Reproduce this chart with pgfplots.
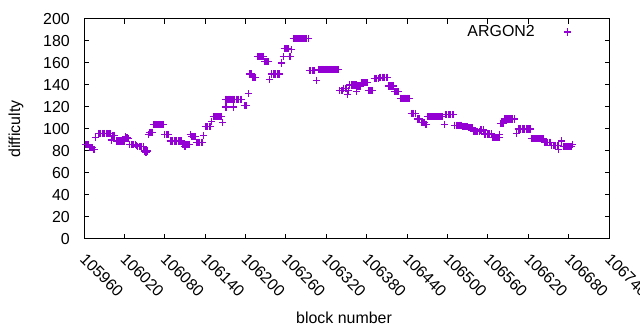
\documentclass[border=0pt]{standalone}
\usepackage{pgfplots}
\pgfplotsset{compat=1.18}
\usepackage{fontspec}
\setmainfont{Liberation Sans}
\definecolor{gpviolet}{HTML}{9400D3}
\newcommand{\gpfont}{\fontsize{16}{17}\selectfont}
\begin{document}
\begin{tikzpicture}
\useasboundingbox (0bp,0bp) rectangle (640bp,330bp);
\begin{axis}[
  at={(84bp,91bp)}, anchor=south west,
  scale only axis, width=525bp, height=220bp,
  xmin=105960, xmax=106740, ymin=0, ymax=200,
  scaled x ticks=false,
  xtick={105960,106020,106080,106140,106200,106260,106320,106380,106440,106500,106560,106620,106680,106740},
  xticklabels={105960,106020,106080,106140,106200,106260,106320,106380,106440,106500,106560,106620,106680,106740},
  ytick={0,20,40,60,80,100,120,140,160,180,200},
  /pgf/number format/assume math mode=true,
  tick align=inside, major tick length=4.5bp,
  axis line style={line width=1bp}, every tick/.style={black, line width=1bp},
  xticklabel style={font=\gpfont, inner sep=0pt, xshift=3bp, yshift=-13bp, rotate=-45, anchor=north west},
  yticklabel style={font=\gpfont, inner sep=0pt, xshift=-14bp},
  legend style={draw=none, fill=none, at={(0.928,0.941)}, anchor=east, font=\gpfont, inner sep=0pt, column sep=29bp, nodes={inner sep=0pt}},
  legend plot pos=right, legend cell align=right,
]
\addplot[only marks, mark=+, mark size=3.6bp, color=gpviolet, mark options={line width=1.2bp}] coordinates {
(105963,86) (105965,86) (105967,86)
(105969,83) (105971,83) (105973,83)
(105975,81) (105977,92)
(105981,96) (105983,96) (105985,96) (105987,96) (105989,96) (105991,96) (105993,96) (105995,96) (105997,96) (105999,96)
(106001,90) (106003,94) (106005,94)
(106008,89) (106010,89) (106012,89) (106014,89) (106016,89) (106018,89) (106020,89)
(106022,93) (106024,92) (106026,91)
(106028,86) (106030,86) (106032,86) (106034,86) (106036,86)
(106038,85)
(106040,84) (106042,84) (106044,84) (106046,84) (106048,84)
(106050,80) (106052,80) (106054,80) (106052,79)
(106056,95) (106058,97) (106060,97) (106062,97)
(106064,104) (106066,104) (106068,104) (106070,104) (106072,104) (106074,104) (106076,104) (106078,104)
(106080,95) (106082,95) (106084,95) (106086,95)
(106088,89) (106090,89) (106092,89) (106094,89) (106096,89) (106098,89) (106100,89) (106102,89) (106104,89)
(106106,86) (106108,86) (106110,86) (106112,86) (106114,86) (106116,86) (106110,84)
(106118,95) (106120,93) (106122,93) (106124,93) (106126,93)
(106128,88) (106130,88) (106132,88) (106134,88) (106136,88)
(106138,94)
(106140,102) (106142,102) (106144,102) (106146,102) (106148,102)
(106150,107) (106152,111) (106154,111) (106156,111) (106158,111) (106160,111) (106162,111) (106164,111)
(106166,106)
(106170,127) (106172,127) (106174,127) (106176,127) (106178,127) (106180,127) (106182,127) (106184,127) (106186,127) (106188,127) (106190,127) (106192,127) (106194,127)
(106171,120) (106182,120)
(106198,121) (106200,121) (106202,121)
(106204,132)
(106206,150) (106208,150)
(106210,147) (106212,147) (106214,147)
(106218,166) (106220,166) (106222,166) (106224,166) (106226,166)
(106228,161) (106230,161) (106232,161) (106234,161)
(106236,145)
(106239,150) (106241,150) (106243,150) (106245,150) (106247,150) (106249,150) (106251,150)
(106254,160) (106256,166)
(106258,173) (106260,173) (106262,173) (106264,173)
(106266,166) (106268,172)
(106271,182) (106273,182) (106275,182) (106277,182) (106279,182) (106281,182) (106283,182) (106285,182) (106287,182) (106289,182) (106291,182) (106293,182)
(106295,153) (106297,153) (106299,153) (106301,153) (106303,153)
(106305,144)
(106308,154) (106310,154) (106312,154) (106314,154) (106316,154) (106318,154) (106320,154) (106322,154) (106324,154) (106326,154) (106328,154) (106330,154) (106332,154) (106334,154) (106336,154) (106338,154)
(106340,135) (106342,135) (106344,135)
(106346,137) (106348,137) (106350,137)
(106352,131) (106353,135)
(106355,140) (106357,140) (106359,140) (106361,140) (106363,140) (106365,140) (106365,134)
(106367,139) (106369,139) (106371,139)
(106373,142) (106375,142) (106377,142) (106379,142) (106381,142)
(106383,135) (106385,135) (106387,135) (106389,135)
(106391,146) (106393,146) (106395,146) (106397,146)
(106399,147) (106401,147) (106403,147) (106405,147) (106407,147) (106409,147) (106411,147)
(106413,139) (106415,139) (106417,139) (106419,139)
(106421,134) (106423,134) (106425,134) (106427,134)
(106430,128) (106432,128) (106434,128) (106436,128) (106438,128) (106440,128) (106442,128) (106444,128)
(106446,114) (106448,114) (106450,114) (106452,114)
(106455,109) (106457,109) (106459,109)
(106461,106) (106463,106) (106465,106)
(106467,104) (106469,104)
(106471,111) (106473,111) (106475,111) (106477,111) (106479,111) (106481,111) (106483,111) (106485,111) (106487,111) (106489,111) (106491,111) (106493,111)
(106495,104)
(106497,113) (106499,113) (106501,113) (106503,113) (106505,113) (106507,113) (106509,113)
(106511,103.5) (106513,103.5) (106515,103.5) (106517,103.5) (106519,103.5) (106521,103.5)
(106523,102) (106525,102) (106527,102) (106529,102)
(106531,101) (106533,101) (106535,101) (106537,101)
(106539,98) (106541,98) (106543,98) (106545,98) (106547,98)
(106549,99) (106551,99) (106553,99)
(106555,95.5) (106557,95.5) (106559,95.5) (106561,95.5) (106563,95.5) (106565,95.5)
(106567,92) (106569,92) (106571,92) (106573,92) (106575,92) (106577,92) (106577,95)
(106579,105) (106581,105) (106583,105)
(106585,109) (106587,109) (106589,109) (106591,109) (106593,109) (106595,109) (106597,109) (106599,109)
(106603,96)
(106605,100) (106607,100) (106609,100) (106611,100) (106613,100) (106615,100) (106617,100) (106619,100) (106621,100) (106623,100)
(106625,91) (106627,91) (106629,91) (106631,91) (106633,91) (106635,91) (106637,91) (106639,91) (106641,91) (106643,91)
(106645,88) (106647,88) (106649,88) (106651,88) (106653,88)
(106655,85) (106657,85) (106659,85) (106661,85) (106663,85) (106665,85) (106665,81)
(106670,89)
(106672,84) (106674,84) (106676,84) (106678,84) (106680,84) (106682,84) (106684,84)
(106686,86)
};
\addlegendentry{ARGON2}
\end{axis}
\node[rotate=90, font=\gpfont] at (16bp,201bp) {difficulty};
\node[font=\gpfont, anchor=base] at (344bp,7bp) {block number};
\end{tikzpicture}
\end{document}
